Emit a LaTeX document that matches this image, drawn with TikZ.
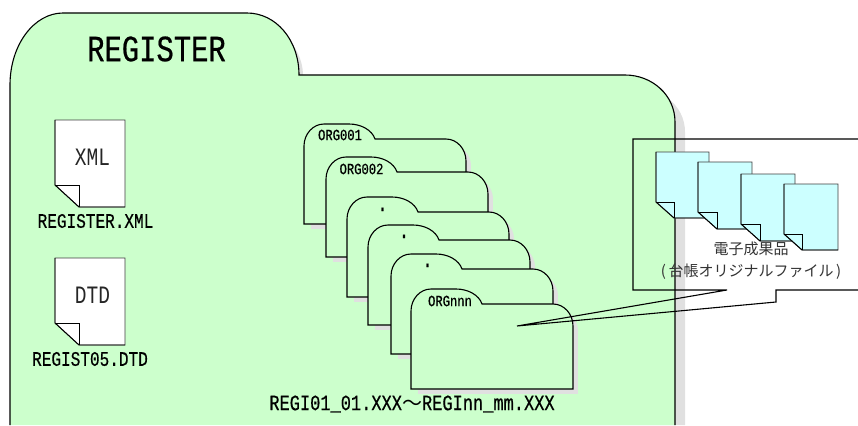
\documentclass[tikz,border=0pt]{standalone}
\usepackage{fontspec}
\usepackage{xcolor}
\usepackage{tikz}
\newfontfamily\gothic[FakeStretch=0.78,FakeBold=0.5]{Liberation Mono}
\newfontfamily\thingothic[FakeStretch=0.78]{Liberation Mono}
\newfontfamily\cjkfont{Noto Sans CJK JP}
\definecolor{regreen}{HTML}{CCFFCC}
\definecolor{recyan}{HTML}{CCFFFF}
\definecolor{reshadow}{HTML}{E0E0E0}
\tikzset{
  filename/.style={font=\gothic\fontsize{20.6}{20.6}\selectfont, inner sep=0pt},
  orglabel/.style={font=\gothic\fontsize{15.6}{15.6}\selectfont, inner sep=0pt},
  dotlabel/.style={font=\gothic\fontsize{22}{22}\selectfont, inner sep=0pt},
  doclabel/.style={font=\thingothic\fontsize{25}{25}\selectfont, inner sep=0pt, text=black!85},
  japlabel/.style={font=\cjkfont\fontsize{15}{15}\selectfont, inner sep=0pt, text=black!80},
}
\newcommand{\registerpath}{(10,425) -- (10,85) .. controls (10,45) and (34,13) .. (63,13) -- (247,13)
  .. controls (276,13) and (299,40) .. (299,75) -- (625,75) .. controls (652,75) and (675,95) .. (675,122) -- (675,425)}
\newcommand{\orgfolder}[2]{
\begin{scope}[shift={(#1,#2)}]
\fill[reshadow] (7,105) rectangle (167,42);
\fill[reshadow] (145,20) .. controls (157,20) and (167,30) .. (167,42) -- (100,42) -- (100,20) -- cycle;
\filldraw[fill=regreen, draw=black, line width=1.1pt] (0,100) -- (0,22) .. controls (0,10) and (9,0) .. (20,0) -- (45,0)
  .. controls (57,0) and (68,6) .. (71,15) -- (142,15) .. controls (153,15) and (162,25) .. (162,37) -- (162,100) -- cycle;
\end{scope}
}
\newcommand{\pagedoc}[7]{
\begin{scope}[shift={(#1,#2)}]
\filldraw[fill=#5, draw=black!75, line width=0.9pt] (0,0) -- (#3,0) -- (#3,#4) -- (#6,#4) -- (0,#4-#7) -- cycle;
\draw[black, line width=0.9pt] (0,0) -- (0,#4-#7) -- (#6,#4) -- (#3,#4);
\draw[black, line width=1pt] (0,#4-#7) -- (#6,#4-#7) -- (#6,#4);
\end{scope}
}
\begin{document}
\begin{tikzpicture}[x=1pt,y=-1pt]
\useasboundingbox (0,0) rectangle (858,425);
\fill[white] (0,0) rectangle (858,425);
% register folder
\fill[reshadow] (300,85) -- (625,85) .. controls (660,85) and (685,105) .. (685,132) -- (685,425) -- (300,425) -- cycle;
\fill[reshadow] (285,35) .. controls (295,45) and (303,60) .. (303,75) -- (285,75) -- cycle;
\fill[regreen] \registerpath -- cycle;
\draw[black, line width=1.1pt] \registerpath;
\node[font=\gothic\fontsize{37}{37}\selectfont, inner sep=0pt] (register) at (156.5,49) {REGISTER};
% xml and dtd files
\pagedoc{55}{120}{70}{87}{white}{24}{22}
\node[doclabel] (xmlmark) at (92.5,157) {XML};
\node[filename] (xmlname) at (95.5,221) {REGISTER.XML};
\pagedoc{55}{258}{70}{87}{white}{24}{22}
\node[doclabel] (dtdmark) at (92.5,295) {DTD};
\node[filename] (dtdname) at (90,359) {REGIST05.DTD};
% org folders
\orgfolder{304}{124}
\orgfolder{326}{157}
\orgfolder{347}{197}
\orgfolder{368}{225}
\orgfolder{391}{254}
\orgfolder{411}{289}
\node[orglabel] (org1) at (340,135) {ORG001};
\node[orglabel] (org2) at (361.5,169) {ORG002};
\node[dotlabel, anchor=base] (org3) at (382.5,211) {.};
\node[dotlabel, anchor=base] (org4) at (404,238) {.};
\node[dotlabel, anchor=base] (org5) at (427.5,267) {.};
\node[orglabel] (orgn) at (450,301) {ORGnnn};
\node[font=\gothic\fontsize{21.8}{21.8}\selectfont, inner sep=0pt] (regfiles) at (412,404) {REGI01\_01.XXX{\cjkfont\fontsize{20}{20}\selectfont ～}REGInn\_mm.XXX};
% callout
\coordinate (tip) at (517,326);
\draw[black, line width=1.1pt] (858,139) -- (633,139) -- (633,290) -- (727,290) -- (tip) -- (776,302) -- (776,290) -- (858,290);
% result files
\pagedoc{656}{152}{53}{66}{recyan}{18}{16}
\pagedoc{698}{162}{54}{67}{recyan}{19}{17}
\pagedoc{741}{174}{54}{67}{recyan}{19}{17}
\pagedoc{784}{184}{54}{66}{recyan}{18}{16}
\node[japlabel] (results) at (751,249) {電子成果品};
\node[japlabel] (original) at (751,272) {(\,台帳オリジナルファイル\,)};
\end{tikzpicture}
\end{document}
